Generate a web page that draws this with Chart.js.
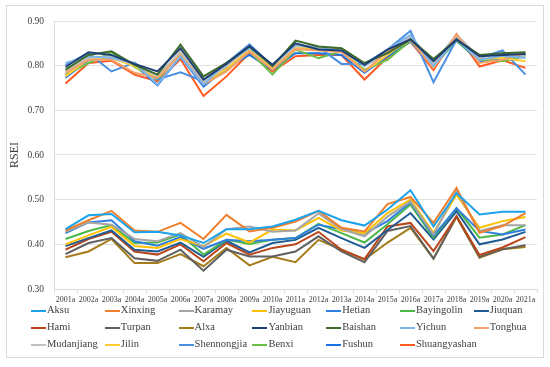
<!DOCTYPE html>
<html>
<head>
<meta charset="utf-8">
<script src="https://cdn.jsdelivr.net/npm/chart.js@4.4.1/dist/chart.umd.min.js"></script>
<style>
  html, body { margin: 0; padding: 0; background: #fff; }
  #wrap { position: relative; width: 550px; height: 367px; }
  #legend { position: absolute; left: 0; top: 0; width: 550px; height: 367px; pointer-events: none;
            font-family: "Liberation Serif", "Times New Roman", serif; font-size: 10.5px; color: #404040; }
  .item { position: absolute; white-space: nowrap; line-height: 12px; }
  .item i { display: inline-block; width: 15px; height: 2px; vertical-align: middle; margin-right: 1px; }
</style>
</head>
<body>
<div id="wrap">
  <canvas id="chart" width="550" height="367"></canvas>
  <div id="legend"></div>
</div>
<script>
// years on the x axis
const years = ['2001a','2002a','2003a','2004a','2005a','2006a','2007a','2008a','2009a','2010a',
  '2011a','2012a','2013a','2014a','2015a','2016a','2017a','2018a','2019a','2020a','2021a'];

// y axis range / ticks
const yMin = 0.30;
const yMax = 0.90;
const yStep = 0.10;

// RSEI per city
const aksu       = [0.434,0.465,0.468,0.427,0.428,0.420,0.403,0.434,0.434,0.440,0.455,0.475,0.454,0.442,0.478,0.521,0.440,0.515,0.467,0.473,0.473];
const xinxing    = [0.431,0.454,0.475,0.431,0.428,0.448,0.412,0.466,0.429,0.437,0.451,0.475,0.437,0.429,0.490,0.506,0.448,0.526,0.426,0.441,0.470];
const karamay    = [0.428,0.449,0.444,0.412,0.407,0.425,0.394,0.434,0.440,0.428,0.431,0.469,0.434,0.418,0.462,0.496,0.422,0.519,0.430,0.443,0.443];
const jiayuguan  = [0.400,0.420,0.439,0.396,0.392,0.412,0.396,0.424,0.404,0.433,0.431,0.459,0.431,0.425,0.470,0.500,0.426,0.511,0.437,0.452,0.461];
const hetian     = [0.425,0.449,0.454,0.407,0.397,0.416,0.390,0.410,0.407,0.410,0.414,0.444,0.434,0.424,0.452,0.494,0.419,0.481,0.430,0.422,0.433];
const bayingolin = [0.412,0.430,0.443,0.403,0.404,0.422,0.377,0.410,0.401,0.410,0.414,0.446,0.425,0.404,0.445,0.489,0.415,0.481,0.415,0.422,0.443];
const jiuquan    = [0.396,0.414,0.431,0.388,0.384,0.404,0.372,0.408,0.382,0.403,0.410,0.437,0.414,0.392,0.432,0.470,0.411,0.474,0.400,0.411,0.428];
const hami       = [0.388,0.412,0.428,0.384,0.377,0.400,0.362,0.403,0.377,0.392,0.400,0.428,0.388,0.367,0.440,0.448,0.385,0.463,0.376,0.393,0.416];
const turpan     = [0.378,0.403,0.414,0.369,0.363,0.388,0.341,0.388,0.373,0.373,0.384,0.418,0.384,0.360,0.430,0.441,0.368,0.463,0.372,0.389,0.398];
const alxa       = [0.371,0.384,0.412,0.358,0.358,0.378,0.351,0.392,0.353,0.372,0.360,0.410,0.388,0.366,0.404,0.437,0.368,0.461,0.370,0.389,0.394];
const yanbian    = [0.797,0.830,0.824,0.804,0.787,0.839,0.769,0.804,0.844,0.802,0.850,0.836,0.834,0.802,0.836,0.859,0.810,0.859,0.821,0.824,0.826];
const baishan    = [0.791,0.824,0.832,0.802,0.780,0.847,0.776,0.806,0.843,0.799,0.856,0.843,0.839,0.806,0.828,0.859,0.815,0.858,0.824,0.828,0.830];
const yichun     = [0.806,0.821,0.817,0.806,0.758,0.821,0.758,0.807,0.839,0.802,0.847,0.841,0.834,0.800,0.836,0.869,0.799,0.861,0.813,0.822,0.817];
const tonghua    = [0.784,0.813,0.813,0.784,0.773,0.824,0.758,0.787,0.832,0.791,0.837,0.834,0.830,0.787,0.832,0.858,0.795,0.869,0.806,0.813,0.828];
const mudanjiang = [0.787,0.817,0.821,0.802,0.776,0.832,0.765,0.799,0.841,0.799,0.844,0.841,0.839,0.799,0.828,0.865,0.806,0.869,0.819,0.828,0.821];
const jilin      = [0.776,0.815,0.817,0.799,0.773,0.830,0.763,0.793,0.837,0.793,0.841,0.837,0.836,0.787,0.824,0.861,0.802,0.865,0.815,0.817,0.810];
const shennongjia= [0.802,0.828,0.787,0.807,0.769,0.785,0.765,0.806,0.848,0.799,0.841,0.841,0.804,0.804,0.836,0.878,0.763,0.858,0.817,0.834,0.780];
const benxi      = [0.780,0.806,0.830,0.797,0.769,0.828,0.760,0.791,0.832,0.780,0.836,0.817,0.832,0.791,0.813,0.856,0.800,0.856,0.813,0.810,0.821];
const fushun     = [0.773,0.813,0.821,0.802,0.756,0.821,0.753,0.795,0.824,0.791,0.828,0.828,0.824,0.784,0.821,0.854,0.799,0.856,0.810,0.815,0.824];
const shuangyashan=[0.760,0.806,0.811,0.780,0.765,0.815,0.732,0.776,0.828,0.787,0.821,0.824,0.824,0.769,0.819,0.854,0.790,0.871,0.798,0.812,0.795];

const cityNames = ['Aksu','Xinxing','Karamay','Jiayuguan','Hetian','Bayingolin','Jiuquan',
  'Hami','Turpan','Alxa','Yanbian','Baishan','Yichun','Tonghua',
  'Mudanjiang','Jilin','Shennongjia','Benxi','Fushun','Shuangyashan'];
const cityValues = [aksu, xinxing, karamay, jiayuguan, hetian, bayingolin, jiuquan,
  hami, turpan, alxa, yanbian, baishan, yichun, tonghua,
  mudanjiang, jilin, shennongjia, benxi, fushun, shuangyashan];

// line colours, same order as cityNames
const lineColors = ['#1ca3ec','#f07f2d','#a5a5a5','#ffc000','#2d7fe0','#4cb848','#1f5c94',
  '#b9461a','#606060','#a67c1a','#1f3f73','#3c6b2a','#7cb5ec','#f4a26a',
  '#c0c0c0','#ffcc33','#4a90e2','#6cc04a','#1a73e8','#ff5a1f'];

const serif = '"Liberation Serif", "Times New Roman", serif';

// white background + light frame around the whole chart
const framePlugin = {
  id: 'frame',
  beforeDraw(chart) {
    const c = chart.ctx;
    c.save();
    c.fillStyle = '#fff';
    c.fillRect(0, 0, chart.width, chart.height);
    c.strokeStyle = '#d9d9d9';
    c.lineWidth = 1;
    c.strokeRect(6.5, 5.5, 537, 352);
    c.restore();
  }
};

const datasets = cityNames.map((name, i) => ({
  label: name,
  data: cityValues[i],
  borderColor: lineColors[i],
  backgroundColor: lineColors[i],
  borderWidth: 2,
  pointRadius: 0,
  tension: 0,
  fill: false
}));

new Chart(document.getElementById('chart'), {
  type: 'line',
  data: { labels: years, datasets: datasets },
  options: {
    responsive: false,
    animation: false,
    layout: { padding: { left: 8, top: 21, right: 13, bottom: 58 } },
    plugins: { legend: { display: false }, tooltip: { enabled: false } },
    scales: {
      x: {
        offset: true,
        grid: { offset: true, drawOnChartArea: false, drawTicks: true, tickLength: 4, color: '#d9d9d9' },
        border: { color: '#d9d9d9' },
        ticks: { color: '#404040', font: { family: serif, size: 8 }, padding: 2, maxRotation: 0, autoSkip: false },
        afterFit(s) { s.height = 20; }
      },
      y: {
        min: yMin, max: yMax,
        grid: { color: '#e3e3e3', drawTicks: false },
        border: { color: '#d9d9d9' },
        ticks: { stepSize: yStep, color: '#404040', font: { family: serif, size: 9.5 }, padding: 10,
                 callback: v => v.toFixed(2) },
        title: { display: true, text: 'RSEI', color: '#404040', font: { family: serif, size: 12, weight: 'normal' }, padding: 0 },
        afterFit(s) { s.width = 46; }
      }
    }
  },
  plugins: [framePlugin]
});

// legend: 7 columns x 3 rows
const legend = document.getElementById('legend');
cityNames.forEach((name, i) => {
  const col = i % 7, row = Math.floor(i / 7);
  const el = document.createElement('div');
  el.className = 'item';
  el.style.left = (31 + col * 73.8) + 'px';
  el.style.top = (304 + row * 17) + 'px';
  el.innerHTML = '<i style="background:' + lineColors[i] + '"></i>' + name;
  legend.appendChild(el);
});
</script>
</body>
</html>
